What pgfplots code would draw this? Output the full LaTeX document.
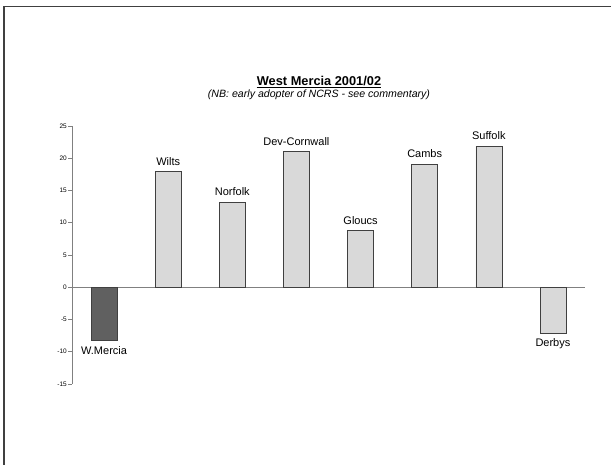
\documentclass[border=0pt]{standalone}
\usepackage{fontspec}
\setmainfont{Liberation Sans}
\usepackage{pgfplots}
\pgfplotsset{compat=1.18}
\definecolor{darkbar}{HTML}{606060}
\definecolor{lightbar}{HTML}{D9D9D9}
\definecolor{axgray}{HTML}{808080}
\definecolor{framegray}{HTML}{404040}
\begin{document}
\begin{tikzpicture}
\useasboundingbox (0,0) rectangle (611bp,465bp);
\fill[white] (0,0) rectangle (611bp,465bp);
\draw[framegray, line width=1.5bp] (4bp,0) -- (4bp,458.5bp) -- (611bp,458.5bp);
\node[anchor=base, inner sep=0pt, font=\fontsize{12.8bp}{15bp}\selectfont\bfseries] (t) at (319bp,379.5bp) {West Mercia 2001/02};
\draw[line width=0.8bp] ([yshift=-2bp]t.base west) -- ([yshift=-2bp]t.base east);
\node[anchor=base, font=\fontsize{10.6bp}{13bp}\selectfont\itshape] at (319bp,367.8bp) {(NB: early adopter of NCRS - see commentary)};
\begin{axis}[
  at={(72bp,81bp)}, anchor=south west,
  scale only axis,
  width=513bp, height=258bp,
  xmin=-0.5, xmax=7.5,
  ymin=-15, ymax=25,
  axis x line=none,
  axis y line*=left,
  axis line style={axgray, line width=0.8bp},
  ytick={-15,-10,...,25},
  tick align=outside,
  major tick length=4bp,
  tick style={axgray, line width=0.6bp},
  yticklabel style={font=\fontsize{6.5bp}{7bp}\selectfont, inner sep=1bp},
  /pgf/number format/assume math mode=true,
  extra y ticks={0},
  extra y tick labels={},
  extra y tick style={grid=major, major grid style={axgray, line width=1bp}},
  ybar, bar width=26bp, bar shift=0pt,
  point meta=explicit symbolic,
  nodes near coords,
  clip=false,
  pos/.style={every node near coord/.style={font=\fontsize{11bp}{13bp}\selectfont, inner sep=2bp, anchor=south, yshift=4bp}},
  neg/.style={every node near coord/.style={font=\fontsize{11bp}{13bp}\selectfont, inner sep=2bp, anchor=north, yshift=-3bp}},
]
\addplot[fill=darkbar, draw=framegray, line width=0.6bp, neg] coordinates {(0,-8.3) [W.Mercia]};
\addplot[fill=lightbar, draw=framegray, line width=0.6bp, pos] coordinates {
  (1,17.9) [Wilts]
  (2,13.2) [Norfolk]
  (3,21.0) [Dev-Cornwall]
  (4,8.8) [Gloucs]
  (5,19.1) [Cambs]
  (6,21.85) [Suffolk]
};
\addplot[fill=lightbar, draw=framegray, line width=0.6bp, neg] coordinates {(7,-7.2) [Derbys]};
\end{axis}
\end{tikzpicture}
\end{document}
